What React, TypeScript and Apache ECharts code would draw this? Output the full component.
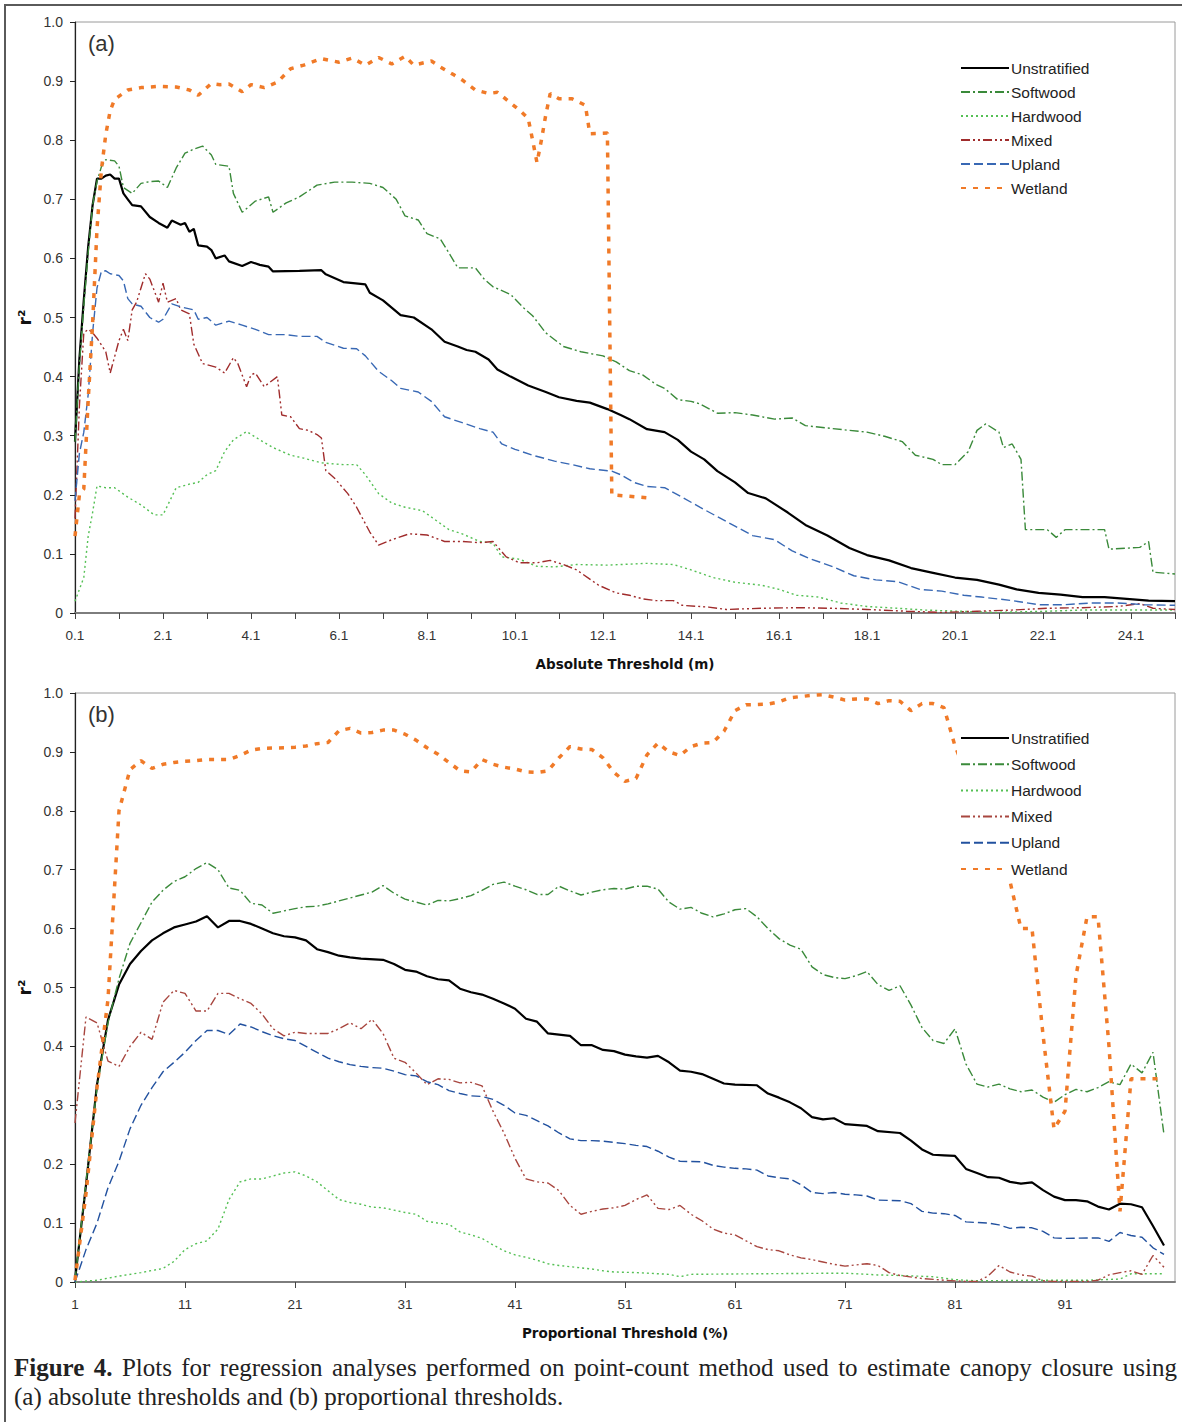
import React, { useEffect, useRef } from 'react';
import * as echarts from 'echarts';

// ---------- categories / tick labels ----------
const catsA: string[] = [];
for (let i = 1; i <= 251; i++) catsA.push((i / 10).toFixed(1));
const catsB: string[] = [];
for (let i = 1; i <= 101; i++) catsB.push(String(i));

const seriesNames = ['Unstratified', 'Softwood', 'Hardwood', 'Mixed', 'Upland', 'Wetland'];

// ---------- (a) absolute thresholds: [threshold m, r2] ----------
const unstratifiedA: [number, number][] = [
  [0.1, 0.29], [0.2, 0.43], [0.3, 0.53], [0.4, 0.62], [0.5, 0.69], [0.6, 0.735], [0.7, 0.735], [0.8, 0.74],
  [0.9, 0.742], [1.0, 0.735], [1.1, 0.735], [1.2, 0.71], [1.3, 0.7], [1.4, 0.69], [1.6, 0.688], [1.8, 0.67],
  [2.0, 0.66], [2.2, 0.652], [2.3, 0.664], [2.5, 0.657], [2.6, 0.66], [2.7, 0.645], [2.8, 0.65], [2.9, 0.622],
  [3.1, 0.62], [3.2, 0.614], [3.3, 0.6], [3.5, 0.605], [3.6, 0.595], [3.9, 0.587], [4.1, 0.594], [4.3, 0.589],
  [4.5, 0.586], [4.6, 0.578], [5.2, 0.579], [5.7, 0.58], [5.8, 0.573], [6.2, 0.56], [6.7, 0.556], [6.8, 0.542],
  [7.1, 0.529], [7.5, 0.504], [7.8, 0.5], [8.2, 0.48], [8.5, 0.459], [8.8, 0.451], [9.0, 0.445], [9.2, 0.442],
  [9.5, 0.429], [9.7, 0.412], [10.0, 0.4], [10.4, 0.385], [10.8, 0.374], [11.1, 0.365], [11.5, 0.359],
  [11.8, 0.356], [12.2, 0.345], [12.5, 0.335], [12.7, 0.328], [13.1, 0.311], [13.5, 0.306], [13.8, 0.293],
  [14.1, 0.273], [14.4, 0.26], [14.7, 0.24], [15.1, 0.221], [15.4, 0.203], [15.8, 0.194], [16.3, 0.17],
  [16.7, 0.149], [17.2, 0.131], [17.7, 0.11], [18.1, 0.098], [18.6, 0.089], [19.1, 0.076], [19.6, 0.068],
  [20.1, 0.06], [20.6, 0.056], [21.1, 0.048], [21.5, 0.04], [22.0, 0.034], [22.5, 0.031], [23.0, 0.027],
  [23.5, 0.027], [24.0, 0.024], [24.5, 0.021], [25.1, 0.02],
];
const softwoodA: [number, number][] = [
  [0.1, 0.29], [0.2, 0.42], [0.3, 0.52], [0.4, 0.61], [0.5, 0.69], [0.6, 0.73], [0.7, 0.755], [0.8, 0.767],
  [1.0, 0.765], [1.1, 0.756], [1.2, 0.72], [1.4, 0.71], [1.6, 0.727], [1.8, 0.73], [2.0, 0.731], [2.2, 0.72],
  [2.4, 0.753], [2.6, 0.778], [2.8, 0.785], [3.0, 0.79], [3.2, 0.775], [3.3, 0.759], [3.6, 0.756], [3.7, 0.71],
  [3.9, 0.678], [4.2, 0.697], [4.5, 0.704], [4.6, 0.678], [4.9, 0.694], [5.2, 0.704], [5.6, 0.724], [6.0, 0.729],
  [6.4, 0.729], [6.8, 0.727], [7.1, 0.72], [7.4, 0.7], [7.6, 0.672], [7.9, 0.665], [8.1, 0.642], [8.4, 0.633],
  [8.6, 0.609], [8.8, 0.584], [9.2, 0.584], [9.4, 0.565], [9.6, 0.552], [10.0, 0.539], [10.3, 0.516],
  [10.5, 0.503], [10.8, 0.474], [11.2, 0.451], [11.6, 0.442], [12.1, 0.435], [12.4, 0.425], [12.7, 0.41],
  [13.0, 0.403], [13.3, 0.387], [13.5, 0.38], [13.8, 0.361], [14.1, 0.358], [14.3, 0.354], [14.7, 0.338],
  [15.1, 0.339], [15.5, 0.335], [16.0, 0.328], [16.4, 0.33], [16.7, 0.317], [17.2, 0.313], [17.7, 0.309],
  [18.1, 0.306], [18.5, 0.299], [18.9, 0.29], [19.2, 0.267], [19.6, 0.26], [19.8, 0.251], [20.1, 0.251],
  [20.4, 0.273], [20.6, 0.309], [20.8, 0.32], [21.1, 0.306], [21.2, 0.28], [21.4, 0.286], [21.6, 0.26],
  [21.7, 0.141], [22.2, 0.141], [22.4, 0.128], [22.6, 0.141], [23.5, 0.141], [23.6, 0.108], [24.3, 0.111],
  [24.5, 0.121], [24.6, 0.069], [25.1, 0.066],
];
const hardwoodA: [number, number][] = [
  [0.1, 0.02], [0.3, 0.06], [0.4, 0.13], [0.5, 0.17], [0.6, 0.215], [0.8, 0.212], [1.0, 0.212], [1.3, 0.196],
  [1.6, 0.183], [1.9, 0.166], [2.1, 0.166], [2.4, 0.212], [2.7, 0.218], [2.9, 0.221], [3.1, 0.234], [3.3, 0.241],
  [3.5, 0.273], [3.7, 0.293], [4.0, 0.307], [4.3, 0.293], [4.6, 0.28], [5.0, 0.267], [5.3, 0.262], [5.7, 0.254],
  [6.2, 0.251], [6.5, 0.251], [6.7, 0.234], [7.0, 0.202], [7.3, 0.186], [7.6, 0.179], [8.0, 0.173], [8.3, 0.157],
  [8.6, 0.141], [8.9, 0.134], [9.3, 0.121], [9.6, 0.118], [9.8, 0.095], [10.2, 0.091], [10.6, 0.079],
  [11.0, 0.078], [11.5, 0.082], [12.2, 0.081], [13.1, 0.084], [13.7, 0.082], [14.1, 0.073], [14.6, 0.06],
  [15.1, 0.052], [15.7, 0.047], [16.1, 0.04], [16.5, 0.03], [17.0, 0.027], [17.5, 0.017], [18.1, 0.011],
  [18.8, 0.008], [19.4, 0.005], [20.2, 0.003], [21.0, 0.001], [22.2, 0.003], [23.0, 0.005], [25.1, 0.005],
];
const mixedA: [number, number][] = [
  [0.1, 0.16], [0.2, 0.35], [0.3, 0.474], [0.4, 0.48], [0.5, 0.474], [0.6, 0.465], [0.8, 0.442], [0.9, 0.406],
  [1.1, 0.461], [1.2, 0.48], [1.3, 0.461], [1.4, 0.513], [1.5, 0.526], [1.7, 0.574], [1.8, 0.565], [2.0, 0.526],
  [2.1, 0.558], [2.2, 0.526], [2.4, 0.532], [2.5, 0.513], [2.7, 0.506], [2.8, 0.455], [3.0, 0.422], [3.3, 0.416],
  [3.5, 0.406], [3.7, 0.432], [3.8, 0.422], [4.0, 0.383], [4.1, 0.403], [4.2, 0.406], [4.4, 0.383], [4.7, 0.4],
  [4.8, 0.335], [5.0, 0.332], [5.2, 0.312], [5.4, 0.309], [5.6, 0.302], [5.7, 0.296], [5.8, 0.241], [6.0, 0.228],
  [6.3, 0.202], [6.5, 0.179], [6.8, 0.137], [7.0, 0.115], [7.3, 0.124], [7.7, 0.134], [8.1, 0.132], [8.5, 0.121],
  [8.9, 0.121], [9.3, 0.119], [9.6, 0.121], [9.9, 0.095], [10.2, 0.085], [10.6, 0.085], [10.9, 0.089],
  [11.2, 0.082], [11.5, 0.073], [12.0, 0.047], [12.4, 0.034], [12.7, 0.03], [13.0, 0.024], [13.3, 0.021],
  [13.7, 0.021], [13.9, 0.013], [14.5, 0.01], [14.9, 0.006], [15.7, 0.008], [16.5, 0.009], [17.3, 0.008],
  [18.1, 0.006], [19.0, 0.003], [19.8, 0.001], [20.6, 0.003], [21.4, 0.005], [22.2, 0.008], [23.0, 0.009],
  [23.8, 0.011], [24.3, 0.016], [24.6, 0.008], [25.1, 0.006],
];
const uplandA: [number, number][] = [
  [0.1, 0.19], [0.2, 0.27], [0.3, 0.306], [0.4, 0.37], [0.5, 0.474], [0.6, 0.55], [0.7, 0.578], [0.8, 0.579],
  [0.9, 0.574], [1.1, 0.571], [1.2, 0.562], [1.3, 0.532], [1.4, 0.523], [1.6, 0.519], [1.8, 0.5], [2.0, 0.492],
  [2.1, 0.497], [2.3, 0.523], [2.5, 0.518], [2.8, 0.513], [2.9, 0.497], [3.1, 0.5], [3.3, 0.487], [3.6, 0.494],
  [3.9, 0.487], [4.2, 0.48], [4.5, 0.471], [4.9, 0.471], [5.2, 0.468], [5.6, 0.468], [5.8, 0.458], [6.2, 0.448],
  [6.5, 0.447], [6.7, 0.435], [7.0, 0.409], [7.3, 0.393], [7.5, 0.38], [7.9, 0.374], [8.2, 0.358], [8.5, 0.332],
  [8.9, 0.322], [9.3, 0.312], [9.6, 0.306], [9.8, 0.286], [10.1, 0.277], [10.5, 0.267], [11.0, 0.257],
  [11.4, 0.251], [11.8, 0.244], [12.3, 0.24], [12.5, 0.234], [12.8, 0.221], [13.1, 0.214], [13.5, 0.212],
  [13.9, 0.196], [14.3, 0.179], [14.7, 0.163], [15.1, 0.147], [15.5, 0.131], [16.0, 0.124], [16.4, 0.105],
  [16.8, 0.092], [17.3, 0.079], [17.8, 0.063], [18.3, 0.056], [18.8, 0.053], [19.3, 0.04], [19.8, 0.037],
  [20.3, 0.03], [20.7, 0.027], [21.4, 0.021], [22.0, 0.014], [22.6, 0.014], [23.2, 0.017], [23.8, 0.017],
  [24.4, 0.014], [25.1, 0.013],
];
const wetlandA: [number, number][] = [
  [0.1, 0.13], [0.2, 0.2], [0.3, 0.21], [0.4, 0.36], [0.5, 0.49], [0.6, 0.65], [0.7, 0.75], [0.8, 0.81],
  [0.9, 0.85], [1.0, 0.869], [1.3, 0.885], [1.6, 0.889], [2.0, 0.891], [2.4, 0.89], [2.7, 0.885], [2.9, 0.876],
  [3.2, 0.896], [3.4, 0.894], [3.6, 0.895], [3.9, 0.882], [4.1, 0.894], [4.4, 0.889], [4.7, 0.898], [5.0, 0.921],
  [5.3, 0.927], [5.7, 0.938], [6.1, 0.932], [6.4, 0.939], [6.7, 0.927], [7.0, 0.94], [7.3, 0.929], [7.6, 0.942],
  [7.8, 0.927], [8.2, 0.934], [8.4, 0.924], [8.7, 0.911], [8.9, 0.902], [9.2, 0.885], [9.5, 0.879], [9.7, 0.881],
  [10.0, 0.863], [10.2, 0.851], [10.4, 0.837], [10.5, 0.8], [10.6, 0.762], [10.7, 0.8], [10.8, 0.843],
  [10.9, 0.879], [11.1, 0.87], [11.4, 0.87], [11.7, 0.859], [11.8, 0.811], [12.2, 0.812], [12.3, 0.2],
  [13.1, 0.195],
];

// ---------- (b) proportional thresholds: [threshold %, r2] ----------
const unstratifiedB: [number, number][] = [
  [1, 0.003], [2, 0.165], [3, 0.335], [4, 0.445], [5, 0.505], [6, 0.54], [7, 0.562], [8, 0.58], [9, 0.592],
  [10, 0.602], [11, 0.607], [12, 0.612], [13, 0.621], [14, 0.602], [15, 0.613], [16, 0.613], [17, 0.608],
  [18, 0.6], [19, 0.592], [20, 0.587], [21, 0.585], [22, 0.58], [23, 0.565], [24, 0.56], [25, 0.554],
  [26, 0.551], [27, 0.549], [29, 0.547], [30, 0.54], [31, 0.53], [32, 0.527], [33, 0.519], [34, 0.514],
  [35, 0.512], [36, 0.498], [37, 0.492], [38, 0.488], [39, 0.481], [40, 0.473], [41, 0.464], [42, 0.447],
  [43, 0.442], [44, 0.422], [45, 0.42], [46, 0.418], [47, 0.402], [48, 0.402], [49, 0.394], [50, 0.392],
  [51, 0.386], [52, 0.383], [53, 0.381], [54, 0.384], [55, 0.373], [56, 0.359], [57, 0.357], [58, 0.353],
  [59, 0.345], [60, 0.337], [61, 0.335], [63, 0.334], [64, 0.32], [65, 0.313], [66, 0.305], [67, 0.295],
  [68, 0.28], [69, 0.276], [70, 0.278], [71, 0.268], [73, 0.265], [74, 0.256], [76, 0.253], [77, 0.24],
  [78, 0.225], [79, 0.216], [80, 0.215], [81, 0.214], [82, 0.192], [83, 0.185], [84, 0.178], [85, 0.177],
  [86, 0.17], [87, 0.167], [88, 0.169], [89, 0.156], [90, 0.145], [91, 0.139], [92, 0.139], [93, 0.137],
  [94, 0.128], [95, 0.123], [96, 0.133], [97, 0.132], [98, 0.127], [99, 0.095], [100, 0.062],
];
const softwoodB: [number, number][] = [
  [1, 0.003], [2, 0.17], [3, 0.33], [4, 0.44], [5, 0.515], [6, 0.575], [7, 0.61], [8, 0.645], [9, 0.665],
  [10, 0.68], [11, 0.688], [12, 0.702], [13, 0.712], [14, 0.7], [15, 0.669], [16, 0.665], [17, 0.643],
  [18, 0.64], [19, 0.626], [20, 0.63], [21, 0.634], [22, 0.637], [23, 0.638], [24, 0.642], [25, 0.647],
  [26, 0.652], [27, 0.657], [28, 0.662], [29, 0.673], [30, 0.66], [31, 0.65], [32, 0.645], [33, 0.64],
  [34, 0.648], [35, 0.647], [36, 0.651], [37, 0.656], [38, 0.665], [39, 0.675], [40, 0.679], [41, 0.672],
  [42, 0.666], [43, 0.658], [44, 0.658], [45, 0.672], [46, 0.664], [47, 0.657], [48, 0.662], [49, 0.666],
  [50, 0.668], [51, 0.667], [52, 0.672], [53, 0.672], [54, 0.667], [55, 0.645], [56, 0.633], [57, 0.636],
  [58, 0.626], [59, 0.62], [60, 0.625], [61, 0.632], [62, 0.634], [63, 0.62], [64, 0.6], [65, 0.583],
  [66, 0.572], [67, 0.565], [68, 0.535], [69, 0.522], [70, 0.517], [71, 0.515], [72, 0.52], [73, 0.527],
  [74, 0.505], [75, 0.495], [76, 0.503], [77, 0.47], [78, 0.432], [79, 0.41], [80, 0.405], [81, 0.43],
  [82, 0.37], [83, 0.336], [84, 0.331], [85, 0.336], [86, 0.328], [87, 0.323], [88, 0.326], [89, 0.314],
  [90, 0.305], [91, 0.318], [92, 0.327], [93, 0.323], [94, 0.33], [95, 0.34], [96, 0.335], [97, 0.37],
  [98, 0.355], [99, 0.39], [100, 0.25],
];
const hardwoodB: [number, number][] = [
  [1, 0.0], [3, 0.003], [5, 0.01], [7, 0.016], [9, 0.023], [10, 0.035], [11, 0.055], [12, 0.065], [13, 0.07],
  [14, 0.09], [15, 0.14], [16, 0.17], [17, 0.175], [18, 0.175], [19, 0.18], [20, 0.185], [21, 0.187],
  [22, 0.18], [23, 0.17], [24, 0.155], [25, 0.14], [26, 0.135], [27, 0.132], [28, 0.127], [29, 0.126],
  [30, 0.122], [31, 0.118], [32, 0.115], [33, 0.103], [34, 0.1], [35, 0.098], [36, 0.085], [37, 0.08],
  [38, 0.074], [39, 0.063], [40, 0.053], [41, 0.046], [42, 0.042], [43, 0.037], [44, 0.031], [45, 0.028],
  [46, 0.026], [47, 0.024], [48, 0.022], [49, 0.019], [50, 0.017], [52, 0.016], [55, 0.013], [56, 0.009],
  [57, 0.013], [63, 0.014], [71, 0.015], [74, 0.012], [76, 0.011], [79, 0.009], [81, 0.004], [83, 0.002],
  [88, 0.003], [93, 0.003], [96, 0.005], [97, 0.014], [100, 0.014],
];
const mixedB: [number, number][] = [
  [1, 0.27], [2, 0.45], [3, 0.44], [4, 0.375], [5, 0.366], [6, 0.4], [7, 0.424], [8, 0.412], [9, 0.475],
  [10, 0.495], [11, 0.49], [12, 0.46], [13, 0.46], [14, 0.49], [15, 0.49], [16, 0.481], [17, 0.473],
  [18, 0.455], [19, 0.43], [20, 0.418], [21, 0.424], [22, 0.422], [24, 0.422], [25, 0.43], [26, 0.44],
  [27, 0.43], [28, 0.446], [29, 0.422], [30, 0.38], [31, 0.373], [32, 0.355], [33, 0.335], [34, 0.345],
  [35, 0.344], [36, 0.338], [37, 0.339], [38, 0.333], [39, 0.29], [40, 0.253], [41, 0.21], [42, 0.175],
  [43, 0.17], [44, 0.168], [45, 0.155], [46, 0.13], [47, 0.115], [48, 0.12], [49, 0.124], [50, 0.126],
  [51, 0.13], [52, 0.14], [53, 0.148], [54, 0.125], [55, 0.123], [56, 0.13], [57, 0.115], [58, 0.104],
  [59, 0.09], [60, 0.083], [61, 0.08], [62, 0.07], [63, 0.06], [64, 0.055], [65, 0.053], [66, 0.046],
  [67, 0.041], [68, 0.038], [69, 0.034], [70, 0.03], [71, 0.027], [72, 0.029], [73, 0.031], [74, 0.028],
  [75, 0.016], [76, 0.011], [78, 0.006], [80, 0.003], [82, 0.001], [83, 0.001], [84, 0.01], [85, 0.028],
  [86, 0.017], [87, 0.012], [88, 0.01], [89, 0.002], [90, 0.001], [93, 0.001], [94, 0.003], [95, 0.012],
  [96, 0.016], [97, 0.019], [98, 0.013], [99, 0.045], [100, 0.025],
];
const uplandB: [number, number][] = [
  [1, 0.0], [2, 0.055], [3, 0.1], [4, 0.16], [5, 0.205], [6, 0.26], [7, 0.3], [8, 0.33], [9, 0.357],
  [10, 0.373], [11, 0.39], [12, 0.41], [13, 0.427], [14, 0.427], [15, 0.42], [16, 0.438], [17, 0.433],
  [18, 0.425], [19, 0.418], [20, 0.413], [21, 0.41], [22, 0.4], [23, 0.39], [24, 0.38], [25, 0.374],
  [26, 0.369], [27, 0.366], [28, 0.364], [29, 0.363], [30, 0.358], [31, 0.352], [32, 0.35], [33, 0.34],
  [34, 0.335], [35, 0.325], [36, 0.32], [37, 0.316], [38, 0.315], [39, 0.31], [40, 0.3], [41, 0.287],
  [42, 0.283], [43, 0.274], [44, 0.265], [45, 0.253], [46, 0.243], [47, 0.24], [48, 0.24], [49, 0.239],
  [50, 0.237], [51, 0.235], [52, 0.232], [53, 0.23], [54, 0.222], [55, 0.212], [56, 0.205], [58, 0.204],
  [59, 0.198], [60, 0.195], [61, 0.193], [62, 0.192], [63, 0.19], [64, 0.18], [65, 0.177], [66, 0.175],
  [67, 0.165], [68, 0.152], [69, 0.15], [70, 0.152], [71, 0.149], [72, 0.148], [73, 0.146], [74, 0.139],
  [76, 0.138], [77, 0.133], [78, 0.12], [79, 0.117], [80, 0.116], [81, 0.113], [82, 0.102], [83, 0.101],
  [84, 0.1], [85, 0.097], [86, 0.091], [87, 0.093], [88, 0.092], [89, 0.086], [90, 0.075], [91, 0.074],
  [94, 0.075], [95, 0.069], [96, 0.084], [97, 0.079], [98, 0.076], [99, 0.058], [100, 0.047],
];
const wetlandB: [number, number][] = [
  [1, 0.003], [2, 0.15], [3, 0.33], [4, 0.48], [5, 0.8], [6, 0.87], [7, 0.885], [8, 0.872], [9, 0.879],
  [10, 0.882], [11, 0.884], [12, 0.885], [13, 0.887], [15, 0.887], [16, 0.894], [17, 0.903], [18, 0.906],
  [20, 0.907], [21, 0.908], [22, 0.91], [23, 0.914], [24, 0.916], [25, 0.936], [26, 0.94], [27, 0.932],
  [28, 0.933], [29, 0.937], [30, 0.937], [31, 0.93], [32, 0.92], [33, 0.907], [34, 0.896], [35, 0.882],
  [36, 0.868], [37, 0.866], [38, 0.887], [39, 0.879], [40, 0.874], [41, 0.871], [42, 0.866], [43, 0.865],
  [44, 0.868], [45, 0.89], [46, 0.909], [47, 0.905], [48, 0.904], [49, 0.89], [50, 0.865], [51, 0.85],
  [52, 0.855], [53, 0.895], [54, 0.915], [55, 0.9], [56, 0.894], [57, 0.909], [58, 0.915], [59, 0.916],
  [60, 0.935], [61, 0.97], [62, 0.98], [64, 0.981], [65, 0.985], [66, 0.992], [67, 0.994], [68, 0.996],
  [69, 0.997], [70, 0.993], [71, 0.988], [72, 0.99], [73, 0.99], [74, 0.982], [75, 0.987], [76, 0.986],
  [77, 0.97], [78, 0.982], [79, 0.982], [80, 0.975], [81, 0.91], [86, 0.68], [87, 0.6], [88, 0.6],
  [89, 0.42], [90, 0.26], [91, 0.29], [92, 0.52], [93, 0.62], [94, 0.62], [95, 0.4], [96, 0.12],
  [97, 0.345], [100, 0.345],
];

const yTickValues = [0, 0.1, 0.2, 0.3, 0.4, 0.5, 0.6, 0.7, 0.8, 0.9, 1.0];

const SANS = '"Liberation Sans", Arial, sans-serif';

type Panel = {
  label: string;
  axisName: string;
  cats: string[];
  fmt: (x: number) => string;
  data: [number, number][][];
  colors: string[];
  gridTop: number;
  gridHeight: number;
  legendTop: number;
  legendGap: number;
  tickShow: (i: number) => boolean;
  labelShow: (i: number) => boolean;
};

const dashes: (number[] | 'solid')[] = ['solid', [9, 3, 2, 3], [2, 3], [9, 3, 2, 3, 2, 3], [9, 4], [5, 7]];
const widths = [2.2, 1.4, 1.4, 1.4, 1.4, 3.5];

function buildOption(p: Panel): any {
  const series = seriesNames.map((name, k) => ({
    type: 'line',
    name,
    symbol: 'none',
    silent: true,
    data: p.data[k].map(([x, y]) => [p.fmt(x), y]),
    lineStyle: { color: p.colors[k], width: widths[k], type: dashes[k], cap: 'butt' },
    itemStyle: { color: p.colors[k] },
    z: 2,
  }));
  return {
    animation: false,
    backgroundColor: 'transparent',
    grid: {
      left: 75, width: 1100, top: p.gridTop, height: p.gridHeight,
      show: true, borderColor: '#9a9a9a', borderWidth: 1, backgroundColor: 'transparent',
    },
    xAxis: {
      type: 'category', data: p.cats, boundaryGap: false,
      axisLine: { show: true, lineStyle: { color: '#7d7d7d', width: 2 } },
      axisTick: { show: true, interval: (i: number) => p.tickShow(i), length: 6, lineStyle: { color: '#444', width: 1 } },
      axisLabel: {
        interval: (i: number) => p.labelShow(i), margin: 15,
        fontFamily: SANS, fontSize: 13.5, color: '#333',
      },
      splitLine: { show: false },
      name: p.axisName, nameLocation: 'middle', nameGap: 44,
      nameTextStyle: { fontFamily: '"DejaVu Sans", sans-serif', fontWeight: 'bold', fontSize: 13.5, color: '#111' },
    },
    yAxis: {
      type: 'value', min: 0, max: 1, interval: 0.1,
      axisLine: { show: true, lineStyle: { color: '#222', width: 1.2 } },
      axisTick: { show: true, length: 5, lineStyle: { color: '#222' } },
      axisLabel: {
        margin: 12, fontFamily: SANS, fontSize: 14, color: '#333',
        formatter: (v: number) => {
          const t = yTickValues.find((u) => Math.abs(u - v) < 1e-6);
          return t === 0 ? '0' : (t ?? v).toFixed(1);
        },
      },
      splitLine: { show: false },
    },
    legend: {
      orient: 'vertical', left: 957, top: p.legendTop, z: 20,
      itemWidth: 48, itemHeight: 14, itemGap: p.legendGap,
      backgroundColor: '#fff', padding: [3, 8, 3, 3],
      selectedMode: false,
      itemStyle: { opacity: 0 },
      textStyle: { fontFamily: SANS, fontSize: 15.5, color: '#222', padding: [0, 0, 0, -3] },
      data: seriesNames,
    },
    graphic: [
      {
        type: 'text', left: 88, top: p.gridTop + 10, silent: true,
        style: { text: p.label, font: '22px "Liberation Sans", Arial, sans-serif', fill: '#333' },
      },
      {
        type: 'text', x: 25, y: p.gridTop + p.gridHeight / 2, rotation: Math.PI / 2, silent: true,
        style: { text: 'r²', font: 'bold 17px "DejaVu Sans", sans-serif', fill: '#111', align: 'center', verticalAlign: 'middle' },
      },
    ],
    series,
  };
}

const panelA: Panel = {
  label: '(a)',
  axisName: 'Absolute Threshold (m)',
  cats: catsA,
  fmt: (x) => x.toFixed(1),
  data: [unstratifiedA, softwoodA, hardwoodA, mixedA, uplandA, wetlandA],
  colors: ['#000000', '#3a8a3a', '#55c055', '#a02c2c', '#3868b4', '#f07a28'],
  gridTop: 22,
  gridHeight: 591,
  legendTop: 57,
  legendGap: 8,
  tickShow: (i) => i % 10 === 0,
  labelShow: (i) => i % 20 === 0,
};

const panelB: Panel = {
  label: '(b)',
  axisName: 'Proportional Threshold (%)',
  cats: catsB,
  fmt: (x) => String(x),
  data: [unstratifiedB, softwoodB, hardwoodB, mixedB, uplandB, wetlandB],
  colors: ['#000000', '#3a8a3a', '#55c055', '#a8463f', '#22519f', '#f07a28'],
  gridTop: 693,
  gridHeight: 589,
  legendTop: 727,
  legendGap: 10.2,
  tickShow: (i) => i % 10 === 0 && i < 100,
  labelShow: (i) => i % 10 === 0 && i < 100,
};

export default function App() {
  const refA = useRef<HTMLDivElement>(null);
  const refB = useRef<HTMLDivElement>(null);

  useEffect(() => {
    const a = echarts.init(refA.current!, null, { renderer: 'svg' });
    a.setOption(buildOption(panelA));
    const b = echarts.init(refB.current!, null, { renderer: 'svg' });
    b.setOption(buildOption(panelB));
    return () => {
      a.dispose();
      b.dispose();
    };
  }, []);

  const full: React.CSSProperties = { position: 'absolute', left: 0, top: 0, width: 1182, height: 1422 };
  const captionFont: React.CSSProperties = {
    fontFamily: '"Liberation Serif", "Times New Roman", serif', fontSize: 25, lineHeight: '29px', color: '#222',
    whiteSpace: 'nowrap',
  };

  return (
    <div style={{ position: 'absolute', left: 0, top: 0, width: 1182, height: 1422, background: '#fff', overflow: 'hidden' }}>
      <div
        style={{
          position: 'absolute', left: 4, top: 4, width: 1180, height: 1420,
          borderTop: '2px solid #5a5a5a', borderLeft: '2px solid #5a5a5a', boxSizing: 'border-box',
        }}
      />
      <div ref={refA} style={full} />
      <div ref={refB} style={full} />
      <div style={{ position: 'absolute', left: 14, top: 1353, width: 1163 }}>
        <div style={{ ...captionFont, textAlign: 'justify', textAlignLast: 'justify', whiteSpace: 'normal' }}>
          <b>Figure 4.</b> Plots for regression analyses performed on point-count method used to estimate canopy closure using
        </div>
        <div style={captionFont}>(a) absolute thresholds and (b) proportional thresholds.</div>
      </div>
    </div>
  );
}
